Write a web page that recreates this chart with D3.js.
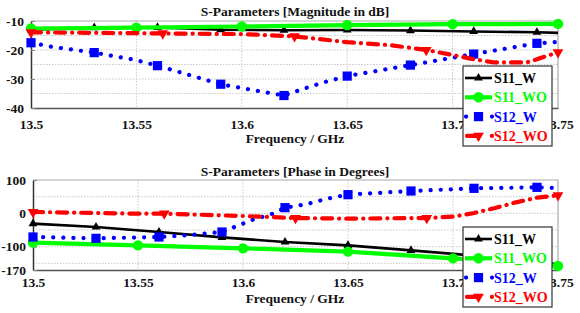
<!DOCTYPE html>
<html><head><meta charset="utf-8">
<script src="https://cdn.jsdelivr.net/npm/d3@7"></script>
<style>
html,body{margin:0;padding:0;background:#fff;}
</style></head>
<body><svg id="c" width="580" height="313"></svg>
<script>
// ---------- DATA ----------
const freqTicks = [13.5, 13.55, 13.6, 13.65, 13.7, 13.75];
const magTicks = [-10, -20, -30, -40];
const magGrid = [-15, -20, -25, -30, -35];
const phaseTicks = [100, 0, -100, -170];
const phaseGrid = [50, 0, -50, -100, -150];
const seriesNames = ["S11_W", "S11_WO", "S12_W", "S12_WO"];

// Magnitude (dB)
const magS11W_f = [13.5, 13.53, 13.56, 13.59, 13.62, 13.65, 13.68, 13.71, 13.74, 13.75];
const magS11W_v = [-13.0, -12.3, -12.2, -13.0, -13.2, -13.1, -13.3, -13.6, -13.9, -14.1];
const magS11WO_f = [13.5, 13.55, 13.6, 13.65, 13.7, 13.75];
const magS11WO_v = [-12.6, -12.3, -11.9, -11.4, -11.1, -11.0];
const magS12W_f = [13.5, 13.51, 13.53, 13.55, 13.56, 13.59, 13.605, 13.62, 13.63, 13.64, 13.65, 13.68, 13.71, 13.74, 13.75];
const magS12W_v = [-17.5, -18.9, -20.9, -23.5, -25.4, -31.8, -33.8, -35.7, -33.2, -30.9, -29.0, -25.2, -21.4, -17.7, -17.2];
const magS12WO_f = [13.5, 13.55, 13.5625, 13.6, 13.625, 13.65, 13.67, 13.6875, 13.7, 13.71, 13.72, 13.735, 13.74, 13.75];
const magS12WO_v = [-13.9, -14.2, -14.3, -14.5, -15.3, -17.3, -18.3, -20.0, -21.7, -23.2, -24.3, -24.3, -23.2, -20.8];

// Phase (degrees)
const phS11W_f = [13.5, 13.53, 13.56, 13.59, 13.62, 13.65, 13.68, 13.71, 13.74, 13.75];
const phS11W_v = [-31, -41, -56, -72, -86, -96, -111, -127, -146, -153];
const phS11WO_f = [13.5, 13.55, 13.6, 13.65, 13.7, 13.75];
const phS11WO_v = [-88, -96, -105, -115, -135, -158];
const phS12W_f = [13.5, 13.53, 13.56, 13.575, 13.59, 13.598, 13.605, 13.613, 13.62, 13.63, 13.64, 13.65, 13.68, 13.71, 13.74, 13.75];
const phS12W_v = [-71, -75, -71, -65, -56, -36, -18, -4, 17, 27, 44, 56, 67, 75, 78, 76];
const phS12WO_f = [13.5, 13.55, 13.5625, 13.6, 13.625, 13.65, 13.6875, 13.7, 13.71, 13.72, 13.73, 13.74, 13.75];
const phS12WO_v = [4, -1, -1, -8, -14, -16, -14, -10, 1, 16, 33, 47, 54];

// Marker positions (frequencies)
const mk003 = [13.5, 13.53, 13.56, 13.59, 13.62, 13.65, 13.68, 13.71, 13.74];
const mk005 = [13.5, 13.55, 13.6, 13.65, 13.7, 13.75];
const mk0625 = [13.5, 13.5625, 13.625, 13.6875, 13.75];

// ---------- STYLE ----------
const FONT = "Liberation Serif";
const styles = {
  S11_W:  {color:"#000000", width:2.6, dash:null, cap:"butt", sym:d3.symbolTriangle, size:34, rot:0, marks:mk003},
  S11_WO: {color:"#00ff00", width:4.2, dash:null, cap:"butt", sym:d3.symbolCircle, size:85, rot:0, marks:mk005},
  S12_W:  {color:"#0000ff", width:4.2, dash:"0.1 10", cap:"round", sym:d3.symbolSquare, size:85, rot:0, marks:mk003},
  S12_WO: {color:"#ff0000", width:4.2, dash:"10 7 0.1 7", cap:"round", sym:d3.symbolTriangle, size:50, rot:180, marks:mk0625}
};

const svg = d3.select("#c");

function panel(cfg) {
  const x = d3.scaleLinear().domain([13.5, 13.75]).range([cfg.x0, cfg.x1]);
  const y = d3.scaleLinear().domain(cfg.domain).range([cfg.yBot, cfg.yTop]);
  const g = svg.append("g");

  // grid
  g.selectAll(".gx").data(freqTicks.slice(1, -1)).enter().append("line")
    .attr("x1", d => x(d)).attr("x2", d => x(d)).attr("y1", cfg.yTop).attr("y2", cfg.yBot)
    .attr("stroke", "#c8c8c8").attr("stroke-width", 1).attr("stroke-dasharray", "1.5 1.5");
  g.selectAll(".gy").data(cfg.grid).enter().append("line")
    .attr("x1", cfg.x0).attr("x2", cfg.x1).attr("y1", d => y(d)).attr("y2", d => y(d))
    .attr("stroke", "#c8c8c8").attr("stroke-width", 1).attr("stroke-dasharray", "1.5 1.5");

  // frame top/right
  g.append("path").attr("d", `M${cfg.x0},${cfg.yTop}H${cfg.x1}V${cfg.yBot}`)
    .attr("fill", "none").attr("stroke", "#aaaaaa").attr("stroke-width", 1.2);

  // axes
  const ax = g.append("g").attr("transform", `translate(0,${cfg.yBot})`)
    .call(d3.axisBottom(x).tickValues(freqTicks).tickFormat(d => String(d)).tickSize(0).tickPadding(cfg.xPad));
  ax.select(".domain").attr("stroke", "#555").attr("stroke-width", 1.5);
  ax.selectAll("text").attr("font-family", FONT).attr("font-weight", "bold")
    .attr("font-size", 13.5).attr("fill", "#111");

  const ay = g.append("g").attr("transform", `translate(${cfg.x0},0)`)
    .call(d3.axisLeft(y).tickValues(cfg.ticks).tickFormat(d => String(d)).tickSizeInner(-4).tickSizeOuter(0).tickPadding(8));
  ay.select(".domain").attr("stroke", "#333").attr("stroke-width", 1.5);
  ay.selectAll(".tick line").attr("stroke", "#888");
  ay.selectAll("text").attr("font-family", FONT).attr("font-weight", "bold")
    .attr("font-size", 13.5).attr("fill", "#111").attr("x", -7);

  // title & x label
  g.append("text").attr("x", 295).attr("y", cfg.titleY).attr("text-anchor", "middle")
    .attr("font-family", FONT).attr("font-weight", "bold")
    .attr("font-size", 13.5).attr("fill", "#111").text(cfg.title);
  g.append("text").attr("x", 295).attr("y", cfg.labelY).attr("text-anchor", "middle")
    .attr("font-family", FONT).attr("font-weight", "bold")
    .attr("font-size", 13.5).attr("fill", "#111").text("Frequency / GHz");

  // series
  const line = d3.line().x(d => x(d[0])).y(d => y(d[1]));
  cfg.series.forEach((s, i) => {
    const st = styles[seriesNames[i]];
    const pts = s.f.map((f, k) => [f, s.v[k]]);
    g.append("path").attr("d", line(pts)).attr("fill", "none")
      .attr("stroke", st.color).attr("stroke-width", st.width)
      .attr("stroke-linecap", st.cap).attr("stroke-linejoin", "round")
      .attr("stroke-dasharray", st.dash);
    const mpts = st.marks.map(m => {
      const k = s.f.findIndex(f => Math.abs(f - m) < 1e-9);
      return [m, s.v[k]];
    });
    g.selectAll(null).data(mpts).enter().append("path")
      .attr("d", d3.symbol().type(st.sym).size(st.size))
      .attr("transform", d => `translate(${x(d[0])},${y(d[1])}) rotate(${st.rot})`)
      .attr("fill", st.color);
  });

  // legend
  const lg = g.append("g");
  lg.append("rect").attr("x", 463).attr("y", cfg.legY).attr("width", 89).attr("height", 80)
    .attr("fill", "#fff").attr("stroke", "#333").attr("stroke-width", 1.2);
  seriesNames.forEach((n, i) => {
    const st = styles[n];
    const cy = cfg.legY + 12 + i * 19.3;
    if (n === "S12_W") {
      lg.append("line").attr("x1", 466).attr("x2", 492).attr("y1", cy).attr("y2", cy)
        .attr("stroke", st.color).attr("stroke-width", st.width).attr("stroke-linecap", "round")
        .attr("stroke-dasharray", "0.1 25.9");
    } else if (n === "S12_WO") {
      lg.append("line").attr("x1", 467).attr("x2", 492).attr("y1", cy).attr("y2", cy)
        .attr("stroke", st.color).attr("stroke-width", st.width).attr("stroke-linecap", "round")
        .attr("stroke-dasharray", "10 14.9 0.1 20");
    } else {
      lg.append("line").attr("x1", 465).attr("x2", 492).attr("y1", cy).attr("y2", cy)
        .attr("stroke", st.color).attr("stroke-width", st.width);
    }
    lg.append("path").attr("d", d3.symbol().type(st.sym).size(st.size))
      .attr("transform", `translate(478.5,${cy}) rotate(${st.rot})`).attr("fill", st.color);
    lg.append("text").attr("x", 494).attr("y", cy).attr("dy", "0.35em")
      .attr("font-family", FONT).attr("font-weight", "bold")
      .attr("font-size", 14).attr("fill", st.color).text(n);
  });
}

panel({
  x0: 31, x1: 558, yTop: 21, yBot: 108, domain: [-40, -10],
  ticks: magTicks, grid: magGrid, xPad: 11,
  title: "S-Parameters [Magnitude in dB]", titleY: 16, labelY: 143, legY: 66,
  series: [
    {f: magS11W_f, v: magS11W_v}, {f: magS11WO_f, v: magS11WO_v},
    {f: magS12W_f, v: magS12W_v}, {f: magS12WO_f, v: magS12WO_v}
  ]
});
panel({
  x0: 33, x1: 558, yTop: 180, yBot: 270, domain: [-170, 100],
  ticks: phaseTicks, grid: phaseGrid, xPad: 7,
  title: "S-Parameters [Phase in Degrees]", titleY: 176, labelY: 303, legY: 227,
  series: [
    {f: phS11W_f, v: phS11W_v}, {f: phS11WO_f, v: phS11WO_v},
    {f: phS12W_f, v: phS12W_v}, {f: phS12WO_f, v: phS12WO_v}
  ]
});
</script></body></html>
